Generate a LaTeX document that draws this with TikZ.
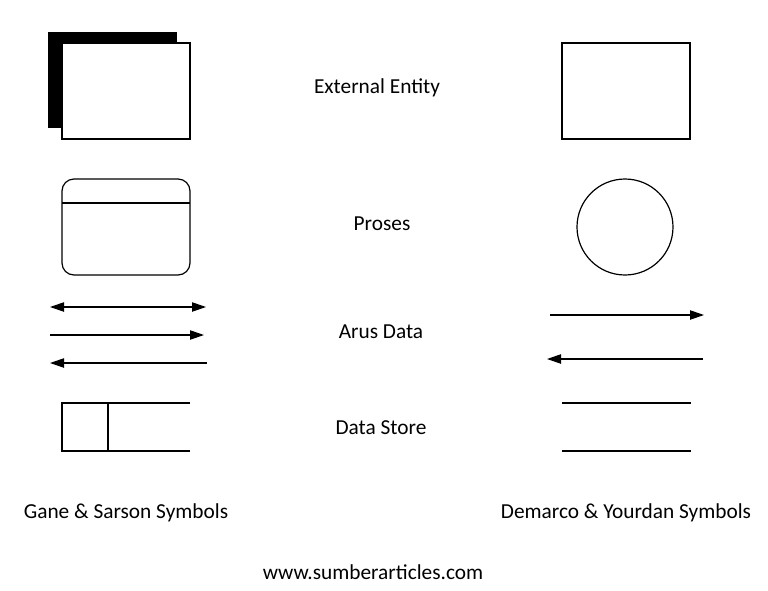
\documentclass[tikz,border=0pt]{standalone}
\usepackage{fontspec}
\setmainfont{Carlito}
\usetikzlibrary{arrows.meta}
\begin{document}
\begin{tikzpicture}[x=0.75pt,y=-0.75pt,
  lbl/.style={font=\fontsize{16}{19}\selectfont, inner sep=0pt, anchor=center},
  ln/.style={line width=0.9pt},
  arr/.style={ln, -{Triangle[length=10.5pt,width=7pt]}},
  darr/.style={ln, {Triangle[length=10.5pt,width=7pt]}-{Triangle[length=10.5pt,width=7pt]}},
  rarr/.style={ln, {Triangle[length=10.5pt,width=7pt]}-}]
\useasboundingbox (0,0) rectangle (768,590);
% External entity (Gane & Sarson)
\fill (48,32) rectangle (177,128);
\node[draw, fill=white, ln, minimum width=128*0.75pt, minimum height=96*0.75pt, inner sep=0pt] (ee1) at (126,91) {};
% External entity (DeMarco)
\node[draw, ln, minimum width=128*0.75pt, minimum height=96*0.75pt, inner sep=0pt] (ee2) at (626,91) {};
% Process
\node[draw, ln, rounded corners=9pt, minimum width=128*0.75pt, minimum height=96*0.75pt, inner sep=0pt] (p1) at (126,227) {};
\draw[ln] (62,203) -- (190,203);
\node[draw, ln, circle, minimum size=96*0.75pt, inner sep=0pt] (p2) at (625,227) {};
% Data flows
\coordinate (a1s) at (50,307); \coordinate (a1e) at (206,307);
\coordinate (a2s) at (50,335); \coordinate (a2e) at (204,335);
\coordinate (a3s) at (50,363); \coordinate (a3e) at (207,363);
\draw[darr] (a1s) -- (a1e);
\draw[arr] (a2s) -- (a2e);
\draw[rarr] (a3s) -- (a3e);
\coordinate (b1s) at (550,315); \coordinate (b1e) at (704,315);
\coordinate (b2s) at (547,359); \coordinate (b2e) at (703,359);
\draw[arr] (b1s) -- (b1e);
\draw[rarr] (b2s) -- (b2e);
% Data stores
\draw[ln] (190,403) -- (62,403) -- (62,451) -- (190,451);
\draw[ln] (108,403) -- (108,451);
\draw[ln] (562,403) -- (691,403);
\draw[ln] (562,451) -- (691,451);
% Labels
\node[lbl] (t1) at (377,87.5) {External Entity};
\node[lbl] (t2) at (382,223.5) {Proses};
\node[lbl] (t3) at (381,331.5) {Arus Data};
\node[lbl] (t4) at (381,427.5) {Data Store};
\node[lbl] (t5) at (126,512.5) {Gane \& Sarson Symbols};
\node[lbl] (t6) at (626,512.5) {Demarco \& Yourdan Symbols};
\node[lbl] (t7) at (373,572.5) {www.sumberarticles.com};
\end{tikzpicture}
\end{document}
